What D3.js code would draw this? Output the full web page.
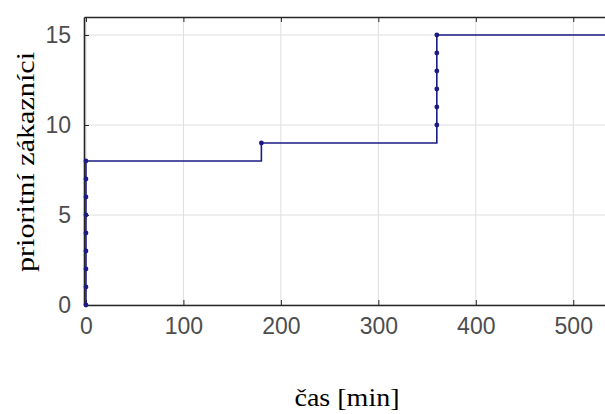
<!doctype html>
<html lang="cs">
  <head>
    <meta charset="utf-8">
    <title>prioritní zákazníci</title>
    <script src="https://d3js.org/d3.v7.min.js"></script>
    <style>
      body { margin: 0; background: #fff; }
      .tick text { font-family: "Liberation Sans", Arial, sans-serif; fill: #4d4d4d; }
      .label { font-family: "Liberation Serif", "Times New Roman", serif; fill: #000; }
    </style>
  </head>
  <body>
    <script>

      // arrival times [min] and cumulative count of priority customers
      var times  = [0, 0, 0, 0, 0, 0, 0, 0, 0, 180, 360, 360, 360, 360, 360, 360];
      var counts = [0, 1, 2, 3, 4, 5, 6, 7, 8, 9, 10, 11, 12, 13, 14, 15];
      var xTicks = [0, 100, 200, 300, 400, 500];
      var yTicks = [0, 5, 10, 15];
      var xEnd = 550;

      var width = 605, height = 414;
      var pLeft = 84, pTop = 17, pBottom = 305, pRight = 622;

      var x = d3.scaleLinear().domain([-2, xEnd]).range([pLeft, pRight]);
      var y = d3.scaleLinear().domain([0, 16]).range([pBottom, pTop]);

      var svg = d3.select("body").append("svg")
          .attr("width", width)
          .attr("height", height);

      // grid
      svg.append("g").selectAll("line").data(xTicks).enter().append("line")
          .attr("x1", function(d){ return x(d); }).attr("x2", function(d){ return x(d); })
          .attr("y1", pTop).attr("y2", pBottom)
          .attr("stroke", "#dedede").attr("stroke-width", 1);
      svg.append("g").selectAll("line").data(yTicks).enter().append("line")
          .attr("x1", pLeft).attr("x2", pRight)
          .attr("y1", function(d){ return y(d); }).attr("y2", function(d){ return y(d); })
          .attr("stroke", "#dedede").attr("stroke-width", 1);

      // axes
      var xAxis = svg.append("g")
          .attr("transform", "translate(0," + pBottom + ")")
          .call(d3.axisBottom(x).tickValues(xTicks).tickSizeInner(-5).tickSizeOuter(0).tickPadding(13));
      var xTop = svg.append("g")
          .attr("transform", "translate(0," + pTop + ")")
          .call(d3.axisTop(x).tickValues(xTicks).tickSizeInner(-5).tickSizeOuter(0).tickFormat(""));
      var yAxis = svg.append("g")
          .attr("transform", "translate(" + pLeft + ",0)")
          .call(d3.axisLeft(y).tickValues(yTicks).tickSizeInner(-5).tickSizeOuter(0).tickPadding(13));

      [xAxis, xTop, yAxis].forEach(function(g){
        g.select(".domain").attr("stroke", "#262626").attr("stroke-width", 1.6);
        g.selectAll(".tick line").attr("stroke", "#262626");
        g.selectAll(".tick text").attr("font-size", 23);
      });

      // step line
      var pts = times.map(function(t, i){ return [t, counts[i]]; });
      var linePts = pts.concat([[xEnd, counts[counts.length - 1]]]);

      svg.append("path")
          .datum(linePts)
          .attr("fill", "none")
          .attr("stroke", "#1b1b85")
          .attr("stroke-width", 1.6)
          .attr("d", d3.line()
            .x(function(d){ return x(d[0]); })
            .y(function(d){ return y(d[1]); })
            .curve(d3.curveStepAfter));

      svg.append("g").selectAll("circle").data(pts).enter().append("circle")
          .attr("cx", function(d){ return x(d[0]); })
          .attr("cy", function(d){ return y(d[1]); })
          .attr("r", 2.4)
          .attr("fill", "#1b1b85");

      // labels
      svg.append("text")
          .attr("class", "label")
          .attr("x", 347).attr("y", 406)
          .attr("text-anchor", "middle")
          .attr("font-size", 26)
          .attr("textLength", 105)
          .attr("lengthAdjust", "spacingAndGlyphs")
          .text("čas [min]");

      svg.append("text")
          .attr("class", "label")
          .attr("transform", "translate(34,162) rotate(-90)")
          .attr("text-anchor", "middle")
          .attr("font-size", 26)
          .attr("textLength", 220)
          .attr("lengthAdjust", "spacingAndGlyphs")
          .text("prioritní zákazníci");

    </script>
  </body>
</html>
